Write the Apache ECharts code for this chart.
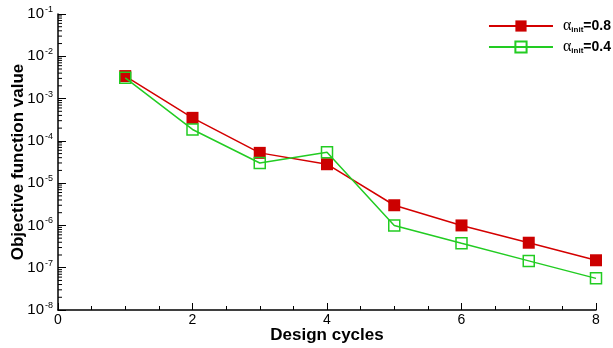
<!DOCTYPE html>
<html><head><meta charset="utf-8">
<script src="https://cdn.jsdelivr.net/npm/echarts@6/dist/echarts.min.js"></script>
<style>html,body{margin:0;padding:0;background:#fff}#c{width:613px;height:348px}</style>
</head><body><div id="c"></div>
<script>
const cycles = [1, 2, 3, 4, 5, 6, 7, 8];
const alpha08 = [3.4e-3, 3.5e-4, 5.2e-5, 2.8e-5, 3.0e-6, 1.0e-6, 3.9e-7, 1.5e-7];
const alpha04 = [3.1e-3, 1.86e-4, 3.0e-5, 5.4e-5, 1.0e-6, 3.8e-7, 1.45e-7, 5.6e-8];
const seriesNames = ['0.8', '0.4'];
const yExponents = [-8, -7, -6, -5, -4, -3, -2];
const minorMultipliers = [2, 3, 4, 5, 6, 7, 8, 9];

const yMinorTicks = [];
yExponents.forEach(e => minorMultipliers.forEach(m => yMinorTicks.push([0, m * Math.pow(10, e)])));

const chart = echarts.init(document.getElementById('c'), null, {renderer: 'canvas'});
const font = 'Liberation Sans, Arial, Helvetica, sans-serif';
chart.setOption({
  animation: false,
  backgroundColor: '#fff',
  grid: {left: 58, right: 17, top: 14, bottom: 38, outerBoundsMode: 'none', containLabel: false},
  legend: {
    right: 2, top: 18, orient: 'vertical', itemGap: 5, padding: 0,
    itemWidth: 64, itemHeight: 14,
    data: ['a08', 'a04'],
    formatter: function (n) {
      return '{a|α}{s|init}{b|=' + (n === 'a08' ? seriesNames[0] : seriesNames[1]) + '}';
    },
    textStyle: {
      fontSize: 14, fontFamily: font, color: '#000', padding: [0, 0, 0, 5],
      rich: {
        a: {fontFamily: 'Liberation Serif, Times New Roman, serif', fontSize: 16, color: '#000'},
        s: {fontFamily: font, fontSize: 8, fontWeight: 'bold', color: '#000', verticalAlign: 'bottom', padding: [8, 0, 0, 0]},
        b: {fontFamily: font, fontSize: 14, fontWeight: 'bold', color: '#000'}
      }
    }
  },
  xAxis: {
    type: 'value', min: 0, max: 8, interval: 2,
    name: 'Design cycles', nameLocation: 'middle', nameGap: 17, nameMoveOverlap: false,
    nameTextStyle: {fontFamily: font, fontSize: 17, fontWeight: 'bold', color: '#000'},
    axisLine: {lineStyle: {color: '#000', width: 1.5}},
    axisTick: {inside: true, length: 7, lineStyle: {color: '#000', width: 1}},
    minorTick: {show: true, splitNumber: 4, length: 4, lineStyle: {color: '#000', width: 1}},
    splitLine: {show: false},
    axisLabel: {fontFamily: font, fontSize: 14, color: '#000', margin: 3}
  },
  yAxis: {
    type: 'log', logBase: 10, min: 1e-8, max: 1e-1,
    name: 'Objective function value', nameLocation: 'middle', nameGap: 31, nameRotate: 90,
    nameMoveOverlap: false,
    nameTextStyle: {fontFamily: font, fontSize: 17, fontWeight: 'bold', color: '#000'},
    axisLine: {show: true, lineStyle: {color: '#000', width: 1.5}},
    axisTick: {inside: true, length: 8, lineStyle: {color: '#000', width: 1}},
    minorTick: {show: false},
    splitLine: {show: false},
    axisLabel: {
      margin: 5, fontSize: 15, fontFamily: font, color: '#000',
      formatter: function (v) {
        const e = Math.round(Math.log10(v));
        return '{b|10}{s|' + e + '}';
      },
      rich: {
        b: {fontFamily: font, fontSize: 15, color: '#000'},
        s: {fontFamily: font, fontSize: 9, color: '#000', verticalAlign: 'top', padding: [0, 0, 9, 1]}
      }
    }
  },
  series: [
    {
      name: 'yminor', type: 'custom', silent: true,
      data: yMinorTicks,
      renderItem: function (params, api) {
        const p = api.coord([api.value(0), api.value(1)]);
        return {type: 'line', shape: {x1: p[0], y1: p[1], x2: p[0] + 4, y2: p[1]},
          style: {stroke: '#000', lineWidth: 1}};
      },
      z: 1
    },
    {
      name: 'a08', type: 'line',
      data: cycles.map((c, i) => [c, alpha08[i]]),
      symbol: 'rect', symbolSize: 12,
      lineStyle: {color: '#d40000', width: 1.5},
      itemStyle: {color: '#cc0000'},
      z: 2
    },
    {
      name: 'a04', type: 'line',
      data: cycles.map((c, i) => [c, alpha04[i]]),
      symbol: 'rect', symbolSize: 11,
      lineStyle: {color: '#22cc22', width: 1.5},
      itemStyle: {color: 'rgba(0,0,0,0)', borderColor: '#22cc22', borderWidth: 1.5},
      z: 3
    }
  ]
});
</script></body></html>
